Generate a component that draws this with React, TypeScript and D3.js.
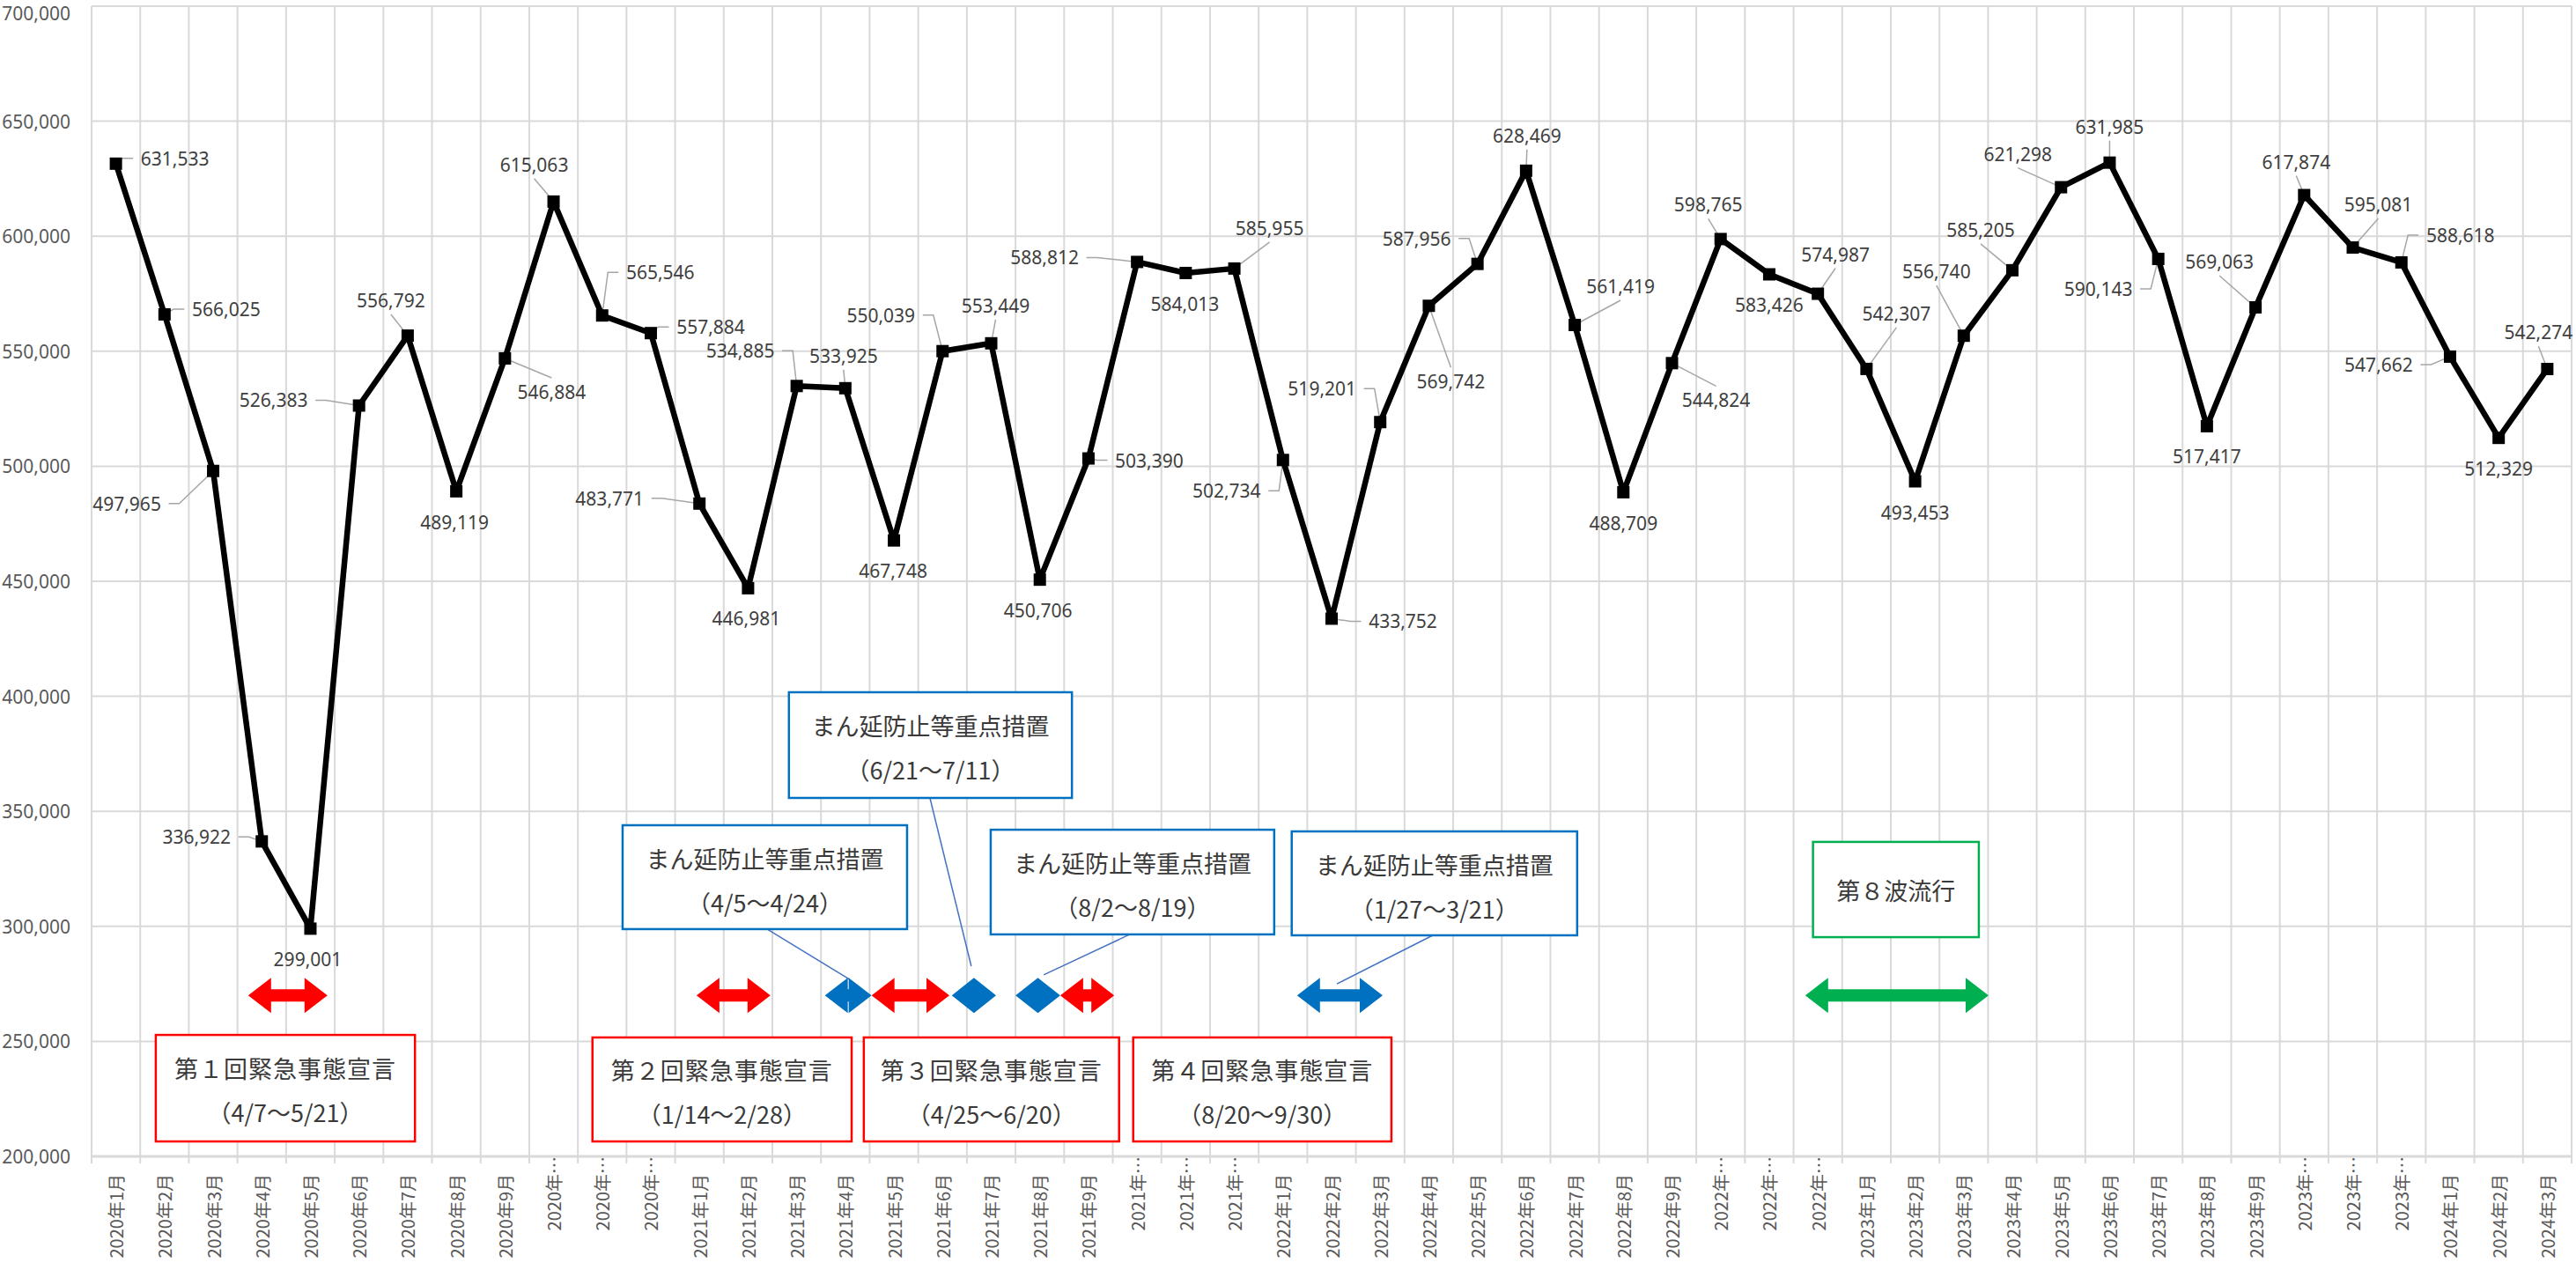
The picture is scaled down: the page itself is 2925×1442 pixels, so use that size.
import React from "react";
import * as d3 from "d3";

const months: string[] = [
  "2020年1月", "2020年2月", "2020年3月", "2020年4月", "2020年5月", "2020年6月",
  "2020年7月", "2020年8月", "2020年9月", "2020年10月", "2020年11月", "2020年12月",
  "2021年1月", "2021年2月", "2021年3月", "2021年4月", "2021年5月", "2021年6月",
  "2021年7月", "2021年8月", "2021年9月", "2021年10月", "2021年11月", "2021年12月",
  "2022年1月", "2022年2月", "2022年3月", "2022年4月", "2022年5月", "2022年6月",
  "2022年7月", "2022年8月", "2022年9月", "2022年10月", "2022年11月", "2022年12月",
  "2023年1月", "2023年2月", "2023年3月", "2023年4月", "2023年5月", "2023年6月",
  "2023年7月", "2023年8月", "2023年9月", "2023年10月", "2023年11月", "2023年12月",
  "2024年1月", "2024年2月", "2024年3月",
];

const values: number[] = [
  631533, 566025, 497965, 336922, 299001, 526383, 556792, 489119, 546884, 615063, 565546, 557884,
  483771, 446981, 534885, 533925, 467748, 550039, 553449, 450706, 503390, 588812, 584013, 585955,
  502734, 433752, 519201, 569742, 587956, 628469, 561419, 488709, 544824, 598765, 583426, 574987,
  542307, 493453, 556740, 585205, 621298, 631985, 590143, 517417, 569063, 617874, 595081, 588618,
  547662, 512329, 542274,
];

const yTicks: number[] = [200000, 250000, 300000, 350000, 400000, 450000, 500000, 550000, 600000, 650000, 700000];

// label offset from its marker (px) + leader style:
// L = stub on label's left, R = stub on label's right, T = from label's top/bottom edge, N = none
const labelPlacement: [number, number, string][] = [
  [67, -6, "L"], [70, -6, "L"], [-98, 37, "R"], [-74, -5, "R"], [-3, 35, "N"], [-97, -6, "R"],
  [-19, -40, "T"], [-2, 35, "N"], [53, 38, "T"], [-22, -42, "T"], [66, -49, "L"], [68, -7, "L"],
  [-102, -6, "R"], [-2, 34, "N"], [-64, -40, "R"], [-2, -37, "T"], [-1, 34, "N"], [-70, -41, "R"],
  [5, -43, "T"], [-2, 35, "N"], [69, 2, "L"], [-105, -5, "R"], [-1, 35, "N"], [40, -46, "T"],
  [-64, 35, "R"], [81, 3, "L"], [-66, -38, "R"], [25, 86, "T"], [-69, -29, "R"], [1, -40, "T"],
  [52, -44, "T"], [0, 35, "N"], [50, 42, "T"], [-14, -39, "T"], [0, 35, "N"], [20, -45, "T"],
  [34, -63, "T"], [0, 35, "N"], [-31, -73, "T"], [-36, -46, "T"], [-49, -38, "T"], [0, -41, "T"],
  [-68, 34, "R"], [0, 34, "N"], [-41, -52, "T"], [-9, -38, "T"], [29, -49, "T"], [67, -31, "L"],
  [-81, 9, "R"], [0, 35, "N"], [-10, -42, "T"],
];

// annotations, x in month units from the left edge, y in axis values
const arrowLevel = 270000;
const emergencyArrows: [number, number][] = [[3.22, 4.85], [12.44, 13.96], [16.04, 17.64], [19.92, 21.03]];
const priorityArrows: [number, number][] = [[15.08, 16.04], [17.69, 18.6], [19.0, 19.92], [24.79, 26.55]];
const waveArrows: [number, number][] = [[35.24, 39.01]];

const RED = "#FF0000";
const BLUE = "#0070C0";
const GREEN = "#00B050";

const boxes = [
  { from: 1.32, to: 6.65, top: 252800, bottom: 206500, color: RED, lines: ["第１回緊急事態宣言", "（4/7～5/21）"] },
  { from: 10.3, to: 15.63, top: 251700, bottom: 206500, color: RED, lines: ["第２回緊急事態宣言", "（1/14～2/28）"] },
  { from: 15.88, to: 21.13, top: 251700, bottom: 206500, color: RED, lines: ["第３回緊急事態宣言", "（4/25～6/20）"] },
  { from: 21.42, to: 26.73, top: 251700, bottom: 206500, color: RED, lines: ["第４回緊急事態宣言", "（8/20～9/30）"] },
  { from: 10.92, to: 16.77, top: 343950, bottom: 298800, color: BLUE, lines: ["まん延防止等重点措置", "（4/5～4/24）"] },
  { from: 14.34, to: 20.16, top: 401760, bottom: 355820, color: BLUE, lines: ["まん延防止等重点措置", "（6/21～7/11）"] },
  { from: 18.49, to: 24.32, top: 342000, bottom: 296500, color: BLUE, lines: ["まん延防止等重点措置", "（8/2～8/19）"] },
  { from: 24.68, to: 30.55, top: 341270, bottom: 296100, color: BLUE, lines: ["まん延防止等重点措置", "（1/27～3/21）"] },
  { from: 35.4, to: 38.81, top: 336700, bottom: 295300, color: GREEN, lines: ["第８波流行"] },
];

const callouts: [number, number, number, number][] = [
  [13.89, 298800, 15.59, 276900],
  [17.24, 355820, 18.09, 282700],
  [21.35, 296500, 19.58, 278900],
  [27.58, 296100, 25.61, 275000],
];

const W = 2925;
const H = 1442;
const left = 104;
const right = 2920;
const top = 7;
const bottom = 1313;

function doubleArrow(x0: number, x1: number, yc: number) {
  const hl = Math.min(26, (x1 - x0) / 2);
  const hh = 20;
  const sh = 7;
  return `M${x0},${yc} L${x0 + hl},${yc - hh} L${x0 + hl},${yc - sh} L${x1 - hl},${yc - sh} L${x1 - hl},${yc - hh} L${x1},${yc} ` +
    `L${x1 - hl},${yc + hh} L${x1 - hl},${yc + sh} L${x0 + hl},${yc + sh} L${x0 + hl},${yc + hh} Z`;
}

function leaderPath(px: number, py: number, lx: number, ly: number, kind: string) {
  const hw = 38.5, hh = 11, gap = 9, stub = 12;
  if (kind === "L") {
    const sx = lx - hw - gap;
    return `M${sx},${ly} L${sx - stub},${ly} L${px},${py}`;
  }
  if (kind === "R") {
    const sx = lx + hw + gap;
    return `M${sx},${ly} L${sx + stub},${ly} L${px},${py}`;
  }
  if (kind === "T") {
    const sy = ly < py ? ly + hh + 5 : ly - hh - 5;
    return `M${lx},${sy} L${px},${py}`;
  }
  return null;
}

export default function App() {
  const x = d3.scaleBand<string>().domain(months).range([left, right]).paddingInner(0).paddingOuter(0);
  const xu = d3.scaleLinear().domain([0, months.length]).range([left, right]);
  const y = d3.scaleLinear().domain([200000, 700000]).range([bottom, top]);
  const fmt = d3.format(",");
  const cx = (i: number) => (x(months[i]) as number) + x.bandwidth() / 2;

  const line = d3.line<number>()
    .x((_, i) => cx(i))
    .y((d) => y(d));

  const arrowY = y(arrowLevel);

  return (
    <svg width={W} height={H} style={{ position: "absolute", left: 0, top: 0, background: "#fff" }}>
      <rect width={W} height={H} fill="#fff" />
      {/* gridlines */}
      {yTicks.map((t) => (
        <line key={"h" + t} x1={left} x2={right} y1={y(t)} y2={y(t)} stroke="#d9d9d9" strokeWidth={t === 200000 ? 3 : 2} />
      ))}
      {d3.range(months.length + 1).map((k) => (
        <line key={"v" + k} x1={xu(k)} x2={xu(k)} y1={top} y2={bottom + 8} stroke="#d9d9d9" strokeWidth={2} />
      ))}

      {/* y axis labels (top one nudged down so it isn't clipped) */}
      {yTicks.map((t) => (
        <text key={"yl" + t} x={80} y={Math.max(y(t), 15)} textAnchor="end" dominantBaseline="central"
          fontFamily="'Noto Sans', sans-serif" fontSize={21} fill="#595959">{fmt(t)}</text>
      ))}

      {/* x axis labels */}
      {months.map((m, i) => {
        const long = m.length > 7;
        const label = long ? m.slice(0, 5) + "…" : m;
        const ty = long ? bottom : bottom + 20;
        return (
          <text key={"xl" + i} transform={`translate(${cx(i)},${ty}) rotate(-90)`} textAnchor="end"
            dominantBaseline="central" fontFamily="'Noto Sans CJK JP', sans-serif" fontSize={20} fill="#595959">
            {label}
          </text>
        );
      })}

      {/* leader lines */}
      {values.map((v, i) => {
        const [dx, dy, kind] = labelPlacement[i];
        const px = cx(i), py = y(v);
        const d = leaderPath(px, py, px + dx, py + dy, kind);
        return d ? <path key={"ld" + i} d={d} fill="none" stroke="#a6a6a6" strokeWidth={1.5} /> : null;
      })}

      {/* series */}
      <path d={line(values) || ""} fill="none" stroke="#000" strokeWidth={6.5} strokeLinejoin="round" />
      {values.map((v, i) => (
        <rect key={"m" + i} x={cx(i) - 7} y={y(v) - 7} width={14} height={14} fill="#000" />
      ))}

      {/* data labels */}
      {values.map((v, i) => {
        const [dx, dy] = labelPlacement[i];
        return (
          <text key={"dl" + i} x={cx(i) + dx} y={y(v) + dy} textAnchor="middle" dominantBaseline="central"
            fontFamily="'Noto Sans', sans-serif" fontSize={21} fill="#404040">{fmt(v)}</text>
        );
      })}

      {/* annotation shapes */}
      {callouts.map(([u0, v0, u1, v1], k) => (
        <line key={"c" + k} x1={xu(u0)} y1={y(v0)} x2={xu(u1)} y2={y(v1)} stroke="#4472C4" strokeWidth={1.5} />
      ))}
      {emergencyArrows.map(([a, b], k) => (
        <path key={"ea" + k} d={doubleArrow(xu(a), xu(b), arrowY)} fill={RED} />
      ))}
      {priorityArrows.map(([a, b], k) => (
        <path key={"pa" + k} d={doubleArrow(xu(a), xu(b), arrowY)} fill={BLUE} />
      ))}
      {waveArrows.map(([a, b], k) => (
        <path key={"wa" + k} d={doubleArrow(xu(a), xu(b), arrowY)} fill={GREEN} />
      ))}
      {boxes.map((b, k) => {
        const x0 = xu(b.from), x1 = xu(b.to), y0 = y(b.top), y1 = y(b.bottom);
        const mid = (x0 + x1) / 2;
        return (
          <g key={"b" + k}>
            <rect x={x0} y={y0} width={x1 - x0} height={y1 - y0} fill="#fff" stroke={b.color} strokeWidth={2.5} />
            {b.lines.map((t, j) => (
              <text key={j} x={mid} y={b.lines.length === 1 ? (y0 + y1) / 2 : y0 + 37 + j * 50}
                textAnchor="middle" dominantBaseline="central" fontFamily="'Noto Sans CJK JP', sans-serif"
                fontSize={27} letterSpacing={b.color === RED && j === 0 ? 1 : 0} fill="#3a3a3a">{t}</text>
            ))}
          </g>
        );
      })}
    </svg>
  );
}
